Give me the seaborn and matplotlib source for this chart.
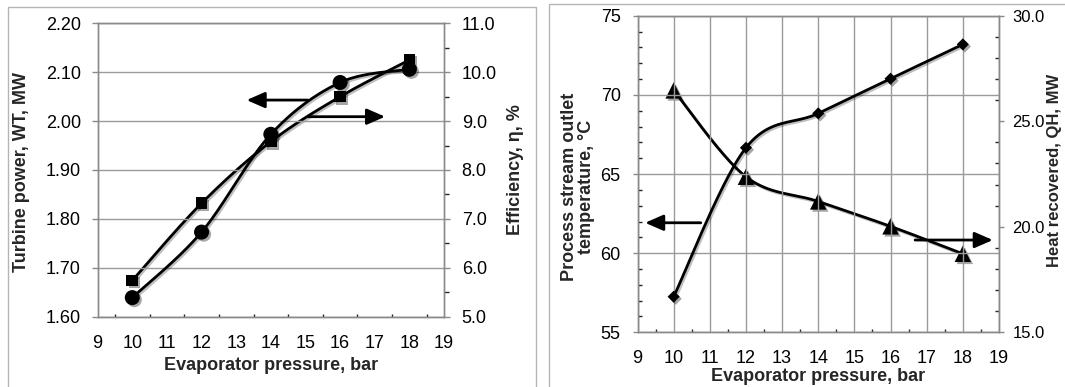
import numpy as np
import matplotlib
matplotlib.use("Agg")
import matplotlib.pyplot as plt
import matplotlib.patheffects as pe
from matplotlib.patches import Rectangle
from matplotlib.ticker import MultipleLocator, FormatStrFormatter
import seaborn as sns

# ---------------- data ----------------
pressure = [10, 12, 14, 16, 18]
turbine_power = [1.639, 1.773, 1.973, 2.079, 2.106]      # MW (left axis, circles)
efficiency = [5.74, 7.32, 8.58, 9.50, 10.25]             # % (right axis, squares)
outlet_temp = [57.25, 66.66, 68.83, 71.02, 73.19]        # degC (left axis, diamonds)
heat_recovered = [26.46, 22.37, 21.20, 20.02, 18.72]     # MW (right axis, triangles)

xlabel = "Evaporator pressure, bar"
ylabel_power = "Turbine power, WT, MW"
ylabel_eff = "Efficiency, η, %"
ylabel_temp = "Process stream outlet\ntemperature, °C"
ylabel_heat = "Heat recovered, QH, MW"

# ---------------- style ----------------
sns.set_style("white")
plt.rcParams['font.family'] = ['Liberation Sans', 'DejaVu Sans']
FS = 13
FL = 13
GRID = '#9a9a9a'
SPINE = '#8a8a8a'
PX = 72 / 100.0   # points per pixel at dpi 100


def smooth(xv, yv, n=40):
    """Excel-like smoothed curve (Catmull-Rom Bezier) through the data points."""
    p = np.column_stack([np.asarray(xv, float), np.asarray(yv, float)])
    ext = np.vstack([p[0], p, p[-1]])
    out = []
    t = np.linspace(0, 1, n)[:, None]
    for i in range(1, len(ext) - 2):
        p0, p1, p2, p3 = ext[i - 1], ext[i], ext[i + 1], ext[i + 2]
        c1 = p1 + (p2 - p0) / 6.0
        c2 = p2 - (p3 - p1) / 6.0
        seg = ((1 - t) ** 3) * p1 + 3 * ((1 - t) ** 2) * t * c1 + 3 * (1 - t) * t ** 2 * c2 + t ** 3 * p2
        out.append(seg if i == 1 else seg[1:])
    c = np.vstack(out)
    return c[:, 0], c[:, 1]


line_fx = [pe.SimpleLineShadow(offset=(1.2, -1.2), alpha=0.25, shadow_color='black'), pe.Normal()]
mark_fx = [pe.SimplePatchShadow(offset=(1.5, -1.5), alpha=0.35, shadow_rgbFace='black'), pe.Normal()]


def draw_series(ax, yv, marker, size):
    sx, sy = smooth(pressure, yv)
    sns.lineplot(x=sx, y=sy, ax=ax, color='black', lw=2.0, sort=False,
                 estimator=None, zorder=3, path_effects=line_fx)
    sc = sns.scatterplot(x=pressure, y=yv, ax=ax, marker=marker, s=size, color='black',
                         linewidth=0, zorder=4)
    sc.collections[-1].set_path_effects(mark_fx)


def style_axes(ax, axr):
    for a in (ax, axr):
        for s in a.spines.values():
            s.set_color(SPINE)
            s.set_linewidth(1.0)
        a.tick_params(colors=SPINE, labelcolor='black', labelsize=FS)
    ax.set_xlim(9, 19)
    ax.xaxis.set_major_locator(MultipleLocator(1))
    ax.xaxis.set_minor_locator(MultipleLocator(0.5))
    ax.tick_params(axis='x', which='major', direction='inout', length=7 * PX, width=1, pad=10.5)
    ax.tick_params(axis='x', which='minor', direction='in', length=3 * PX, width=1)
    ax.tick_params(axis='x', which='minor', bottom=True)


fig = plt.figure(figsize=(10.65, 3.87), dpi=100)

# panel frames
fig.add_artist(Rectangle((8 / 1065, -0.05), (536 - 8) / 1065, 1 - 7 / 387 + 0.05,
                         transform=fig.transFigure, fill=False, edgecolor='#b5b5b5', lw=1.0))
fig.add_artist(Rectangle((549 / 1065, -0.05), 0.6, 1 - 3.5 / 387 + 0.05,
                         transform=fig.transFigure, fill=False, edgecolor='#b5b5b5', lw=1.0))

# ================= left panel =================
ax1 = fig.add_axes([0.0917, 0.1817, 0.3252, 0.7581])
ax1b = ax1.twinx()
style_axes(ax1, ax1b)

ax1.set_ylim(1.60, 2.20)
ax1.yaxis.set_major_locator(MultipleLocator(0.10))
ax1.yaxis.set_major_formatter(FormatStrFormatter('%.2f'))
ax1.tick_params(axis='y', which='major', direction='out', length=6 * PX, width=1, pad=7.7)
ax1.grid(axis='y', color=GRID, lw=1.0)
ax1.set_axisbelow(True)

ax1b.set_ylim(5.0, 11.0)
ax1b.yaxis.set_major_locator(MultipleLocator(1.0))
ax1b.yaxis.set_minor_locator(MultipleLocator(0.5))
ax1b.yaxis.set_major_formatter(FormatStrFormatter('%.1f'))
ax1b.tick_params(axis='y', which='major', direction='out', length=6 * PX, width=1, pad=8.4)
ax1b.tick_params(axis='y', which='minor', direction='out', length=5 * PX, width=1, right=True)
ax1b.grid(False)

draw_series(ax1b, efficiency, 's', 70)
draw_series(ax1, turbine_power, 'o', 117)
ax1.set_zorder(ax1b.get_zorder() + 1)
ax1.patch.set_visible(False)

ax1.set_xlabel(xlabel, fontsize=FL, fontweight='bold')
ax1.xaxis.set_label_coords(0.5, (317 - 366) / 293.4)
ax1.xaxis.label.set_va('center')
ax1.set_ylabel(ylabel_power, fontsize=FL, fontweight='bold')
ax1.yaxis.set_label_coords((22 - 97.7) / 346.3, 0.494)
ax1.yaxis.label.set_va('center')
ax1b.set_ylabel(ylabel_eff, fontsize=FL, fontweight='bold')
ax1b.yaxis.set_label_coords((515 - 97.7) / 346.3, 0.5)
ax1b.yaxis.label.set_va('center')

arrow_kw = dict(arrowstyle='-|>,head_length=0.55,head_width=0.24', color='black', lw=2.0,
                mutation_scale=20, shrinkA=0, shrinkB=0)
ax1.annotate('', xy=(13.30, 2.043), xytext=(15.07, 2.043), arrowprops=arrow_kw, annotation_clip=False)
ax1.annotate('', xy=(17.30, 2.009), xytext=(15.07, 2.009), arrowprops=arrow_kw, annotation_clip=False)

# ================= right panel =================
ax3 = fig.add_axes([0.5986, 0.1413, 0.3394, 0.8181])
ax3b = ax3.twinx()
style_axes(ax3, ax3b)

ax3.set_ylim(55, 75)
ax3.yaxis.set_major_locator(MultipleLocator(5))
ax3.yaxis.set_minor_locator(MultipleLocator(1))
ax3.tick_params(axis='y', which='major', direction='out', length=5 * PX, width=1, pad=8.5)
ax3.tick_params(axis='y', which='minor', direction='in', length=4 * PX, width=1, left=True)
ax3.grid(axis='both', which='major', color=GRID, lw=1.0)
ax3.set_axisbelow(True)

ax3b.set_ylim(15.0, 30.0)
ax3b.yaxis.set_major_locator(MultipleLocator(5))
ax3b.yaxis.set_minor_locator(MultipleLocator(1))
ax3b.yaxis.set_major_formatter(FormatStrFormatter('%.1f'))
ax3b.tick_params(axis='y', which='major', direction='out', length=5 * PX, width=1, pad=6.0,
                 labelsize=12)
ax3b.tick_params(axis='y', which='minor', direction='in', length=4 * PX, width=1, right=True)
ax3b.grid(False)

draw_series(ax3b, heat_recovered, '^', 140)
draw_series(ax3, outlet_temp, 'D', 38)
ax3.set_zorder(ax3b.get_zorder() + 1)
ax3.patch.set_visible(False)

ax3.set_xlabel(xlabel, fontsize=FL, fontweight='bold')
ax3.xaxis.set_label_coords(0.5, (332.3 - 376) / 316.6)
ax3.xaxis.label.set_va('center')
ax3.set_ylabel(ylabel_temp, fontsize=FL, fontweight='bold', linespacing=1.0)
ax3.yaxis.set_label_coords((578 - 637.5) / 361.5, (332.3 - 187) / 316.6)
ax3.yaxis.label.set_va('center')
ax3b.set_ylabel(ylabel_heat, fontsize=12, fontweight='bold')
ax3b.yaxis.set_label_coords((1055 - 637.5) / 361.5, (332.3 - 170) / 316.6)
ax3b.yaxis.label.set_va('center')

ax3.annotate('', xy=(9.21, 61.92), xytext=(10.75, 61.92), arrowprops=arrow_kw, annotation_clip=False)
ax3.annotate('', xy=(18.83, 60.83), xytext=(16.68, 60.83), arrowprops=arrow_kw, annotation_clip=False)

fig.savefig("out.png", dpi=100)
